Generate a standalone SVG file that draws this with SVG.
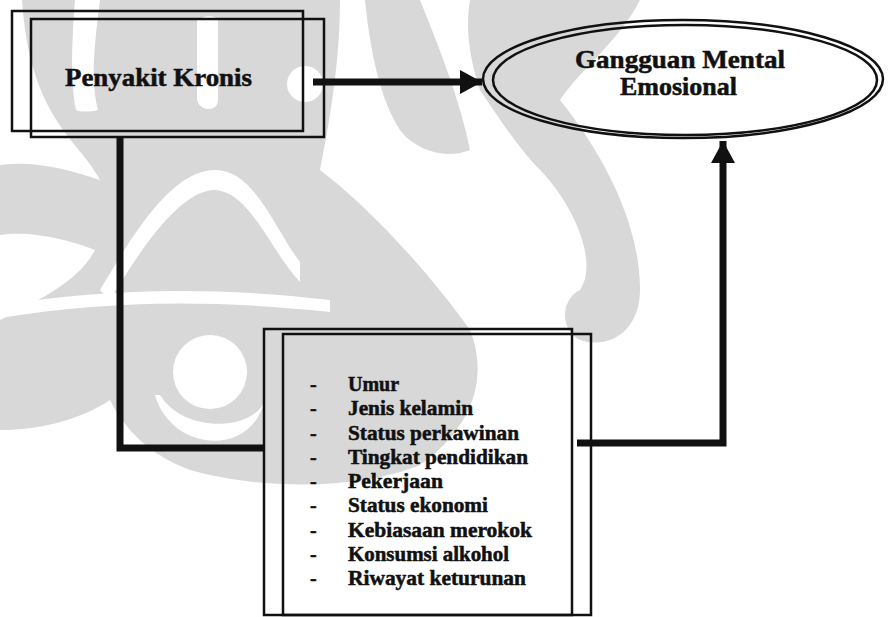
<svg xmlns="http://www.w3.org/2000/svg" width="888" height="617" viewBox="0 0 888 617">
  <defs>
    <style>
      .wm { fill: #d8d8d8; stroke: none; }
      .wh { fill: #ffffff; stroke: none; }
      .box { fill: none; stroke: #111; stroke-width: 2.5; }
      .ell { fill: none; stroke: #111; stroke-width: 2.5; }
      .conn { fill: none; stroke: #111; stroke-width: 7; stroke-linejoin: miter; stroke-linecap: butt; }
      .t { font-family: "Liberation Serif", "Times New Roman", serif; font-weight: bold; fill: #111; stroke: #111; stroke-width: 0.5; }
      .title { font-size: 25px; }
      .item { font-size: 20px; }
    </style>
    <marker id="ah" markerUnits="userSpaceOnUse" markerWidth="24" markerHeight="26" refX="22" refY="12" orient="auto">
      <path d="M0,0 L22,12 L0,24 Z" fill="#111"/>
    </marker>
  </defs>
  <rect width="888" height="617" fill="#ffffff"/>

  <g id="watermark">
    <path class="wm" d="M22,0 H340 C340,60 330,120 320,170 C360,200 420,260 470,330 C490,380 470,430 420,465 C360,490 260,490 190,470 C150,455 125,430 110,400 C80,420 40,430 0,430 V320 C40,300 80,280 95,250 C70,240 30,230 0,235 V165 C35,160 70,170 100,180 C80,140 30,120 22,0 Z"/>
    <path class="wm" d="M470,0 H640 C620,40 580,70 560,100 C600,150 640,220 640,290 C640,330 610,350 580,340 C560,330 560,300 580,290 C600,260 570,200 540,170 C520,150 500,120 480,90 C470,60 465,30 470,0 Z"/>
    <path class="wm" d="M365,0 H420 C440,50 460,100 470,150 C445,160 415,150 400,130 C380,100 370,50 365,0 Z"/>
    <path class="wh" d="M75,0 H100 C95,40 90,80 98,110 C90,112 80,112 76,110 C70,80 72,40 75,0 Z"/>
    <path class="wh" d="M197,20 C205,15 215,15 218,20 L218,100 C218,112 200,112 197,100 Z"/>
    <circle class="wh" cx="305" cy="84" r="18"/>
    <path class="wh" d="M100,290 C130,240 170,170 215,170 C255,170 275,230 300,262 L300,282 C270,250 250,192 215,190 C180,190 140,250 110,300 Z"/>
    <path class="wh" d="M0,305 C100,290 200,285 330,300 L330,312 C200,298 100,302 0,318 Z"/>
    <circle class="wh" cx="210" cy="372" r="37"/>
    <path class="wh" d="M155,395 C170,450 250,460 265,400 C255,430 185,435 160,395 Z"/>
  </g>

  <g id="connectors">
    <path class="conn" d="M313,82 H482" marker-end="url(#ah)"/>
    <path class="conn" d="M120,137 V448 H265"/>
    <path class="conn" d="M577,443 H723 V141" marker-end="url(#ah)"/>
  </g>

  <g id="node-penyakit-kronis">
    <rect class="box" x="12" y="11" width="291" height="120"/>
    <rect class="box" x="31" y="19" width="293" height="118"/>
    <text class="t title" x="65" y="86" textLength="187" lengthAdjust="spacingAndGlyphs">Penyakit Kronis</text>
  </g>

  <g id="node-gangguan-mental">
    <ellipse class="ell" cx="683" cy="79" rx="200" ry="59"/>
    <ellipse class="ell" cx="685" cy="80" rx="192" ry="55"/>
    <text class="t title" x="575" y="68" textLength="210" lengthAdjust="spacingAndGlyphs">Gangguan Mental</text>
    <text class="t title" x="620" y="95" textLength="117" lengthAdjust="spacingAndGlyphs">Emosional</text>
  </g>

  <g id="node-faktor">
    <rect class="box" x="264" y="329" width="308" height="286"/>
    <rect class="box" x="283" y="334" width="308" height="281"/>
    <g class="t item">
      <text x="310" y="391">-</text>
      <text x="310" y="415.25">-</text>
      <text x="310" y="439.5">-</text>
      <text x="310" y="463.75">-</text>
      <text x="310" y="488">-</text>
      <text x="310" y="512.25">-</text>
      <text x="310" y="536.5">-</text>
      <text x="310" y="560.75">-</text>
      <text x="310" y="585">-</text>
      <text x="348" y="391">Umur</text>
      <text x="348" y="415.25" textLength="125" lengthAdjust="spacingAndGlyphs">Jenis kelamin</text>
      <text x="348" y="439.5" textLength="171" lengthAdjust="spacingAndGlyphs">Status perkawinan</text>
      <text x="348" y="463.75" textLength="180" lengthAdjust="spacingAndGlyphs">Tingkat pendidikan</text>
      <text x="348" y="488" textLength="95" lengthAdjust="spacingAndGlyphs">Pekerjaan</text>
      <text x="348" y="512.25" textLength="140" lengthAdjust="spacingAndGlyphs">Status ekonomi</text>
      <text x="348" y="536.5" textLength="184" lengthAdjust="spacingAndGlyphs">Kebiasaan merokok</text>
      <text x="348" y="560.75" textLength="161" lengthAdjust="spacingAndGlyphs">Konsumsi alkohol</text>
      <text x="348" y="585" textLength="178" lengthAdjust="spacingAndGlyphs">Riwayat keturunan</text>
    </g>
  </g>
</svg>
